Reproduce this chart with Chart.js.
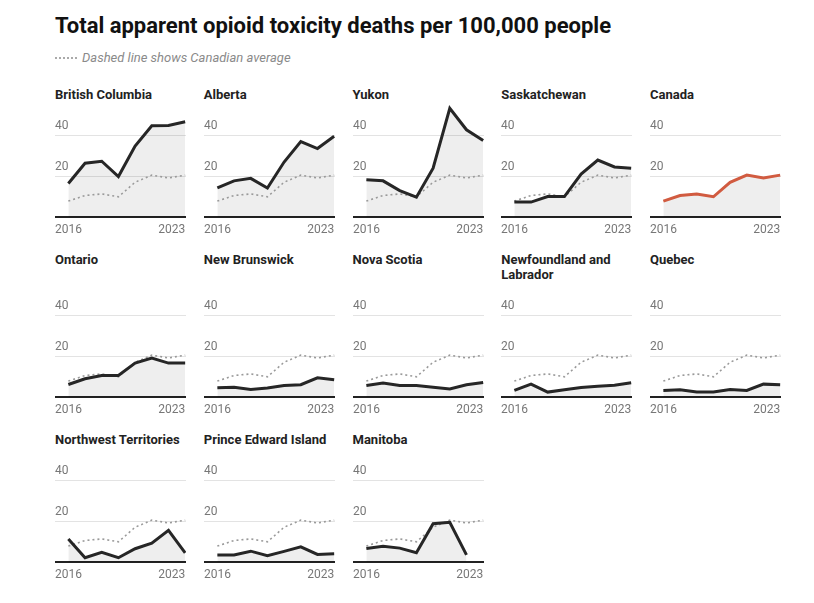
<!DOCTYPE html>
<html>
<head>
<meta charset="utf-8">
<script src="https://cdn.jsdelivr.net/npm/chart.js@4"></script>
<style>
  body { margin: 0; background: #fff; font-family: Roboto, sans-serif; }
  #wrap { position: absolute; left: 55px; top: 13px; width: 726px; }
  h1 { margin: 0; font-size: 22px; line-height: 26px; font-weight: 700; color: #111; }
  .sub { margin-top: 11px; font-size: 13px; line-height: 16px; font-style: italic; color: #8a8a8a; }
  .sub .dots { display: inline-block; width: 22px; border-top: 2px dotted #aaa; vertical-align: middle; margin-right: 5px; position: relative; top: -1px; }
  #grid { margin-top: 20.5px; display: grid; grid-template-columns: repeat(5, 131px); column-gap: 17.75px; row-gap: 9px; }
  .panel { display: flex; flex-direction: column; }
  .panel h3 { margin: 0; font-size: 13px; line-height: 15px; font-weight: 700; color: #222; }
  .panel canvas { margin-top: auto; display: block; }
</style>
</head>
<body>
<div id="wrap">
  <h1>Total apparent opioid toxicity deaths per 100,000 people</h1>
  <div class="sub"><span class="dots"></span>Dashed line shows Canadian average</div>
  <div id="grid"></div>
</div>
<script>
// years and tick labels
var years = [2016, 2017, 2018, 2019, 2020, 2021, 2022, 2023];
var xTickLabels = ['2016', '2023'];
var yTicks = [0, 20, 40];

// values, deaths per 100,000
var canada = [7.8, 10.5, 11.3, 9.9, 17.0, 20.5, 19.1, 20.5];
var britishColumbia = [16.4, 26.3, 27.3, 19.8, 34.7, 44.7, 44.8, 46.6];
var alberta = [14.2, 17.7, 18.9, 14.2, 26.9, 36.9, 33.5, 39.5];
var yukon = [18.2, 17.7, 12.9, 9.7, 23.9, 53.2, 42.7, 37.4];
var saskatchewan = [7.3, 7.3, 10.0, 10.0, 21.0, 27.9, 24.5, 23.9];
var ontario = [6.1, 8.9, 10.5, 10.5, 16.6, 19.0, 16.6, 16.6];
var newBrunswick = [4.5, 4.8, 3.7, 4.4, 5.6, 6.0, 9.4, 8.4];
var novaScotia = [5.6, 6.8, 5.6, 5.6, 4.8, 3.9, 6.0, 7.1];
var newfoundland = [3.2, 6.3, 2.4, 3.5, 4.7, 5.3, 5.8, 7.0];
var quebec = [3.2, 3.5, 2.4, 2.4, 3.7, 3.2, 6.3, 6.0];
var northwestTerritories = [11.3, 2.1, 4.7, 2.1, 6.5, 9.2, 15.5, 4.5];
var princeEdwardIsland = [3.4, 3.4, 5.3, 3.1, 5.2, 7.4, 3.7, 4.0];
var manitoba = [6.6, 7.7, 6.8, 4.5, 18.7, 19.4, 3.5, null];

var panels = [
    ['British Columbia', britishColumbia],
    ['Alberta', alberta],
    ['Yukon', yukon],
    ['Saskatchewan', saskatchewan],
    ['Canada', canada],
    ['Ontario', ontario],
    ['New Brunswick', newBrunswick],
    ['Nova Scotia', novaScotia],
    ['Newfoundland and Labrador', newfoundland],
    ['Quebec', quebec],
    ['Northwest Territories', northwestTerritories],
    ['Prince Edward Island', princeEdwardIsland],
    ['Manitoba', manitoba]
];

var xMin = 2015.2, xMax = 2023.05;

function pts(vals) {
    return years.map(function (yr, i) { return {x: yr, y: vals[i]}; });
}

var grid = document.getElementById('grid');

panels.forEach(function (p) {
    var name = p[0], vals = p[1];
    var isCanada = name === 'Canada';

    var div = document.createElement('div');
    div.className = 'panel';
    var h = document.createElement('h3');
    h.textContent = name;
    var canvas = document.createElement('canvas');
    canvas.width = 131;
    canvas.height = 141;
    div.appendChild(h);
    div.appendChild(canvas);
    grid.appendChild(div);

    var datasets = [{
        data: pts(vals),
        borderColor: isCanada ? '#d15b40' : '#262626',
        borderWidth: 3,
        backgroundColor: 'rgba(0,0,0,0.065)',
        fill: 'origin',
        pointRadius: 0,
        tension: 0,
        clip: false,
        order: 0
    }];
    if (!isCanada) {
        datasets.push({
            data: pts(canada),
            borderColor: '#9a9a9a',
            borderWidth: 1.6,
            borderDash: [2, 3],
            fill: false,
            pointRadius: 0,
            tension: 0,
            order: 1
        });
    }

    new Chart(canvas.getContext('2d'), {
        type: 'line',
        data: {datasets: datasets},
        options: {
            responsive: false,
            animation: false,
            events: [],
            layout: {padding: 0},
            plugins: {
                legend: {display: false},
                tooltip: {enabled: false},
                filler: {drawTime: 'beforeDatasetsDraw'}
            },
            scales: {
                x: {
                    type: 'linear',
                    min: xMin,
                    max: xMax,
                    afterBuildTicks: function (scale) {
                        scale.ticks = [{value: xMin}, {value: 2023}];
                    },
                    grid: {display: false, drawTicks: false},
                    border: {display: true, color: '#222', width: 2},
                    ticks: {
                        align: 'inner',
                        padding: 0,
                        maxRotation: 0,
                        autoSkip: false,
                        color: '#777',
                        font: {family: 'Roboto', size: 12, lineHeight: 26 / 12},
                        callback: function (v) { return v < 2016 ? xTickLabels[0] : xTickLabels[1]; }
                    }
                },
                y: {
                    min: 0,
                    max: 56,
                    afterBuildTicks: function (scale) {
                        scale.ticks = yTicks.map(function (v) { return {value: v}; });
                    },
                    grid: {
                        drawTicks: false,
                        color: function (ctx) { return ctx.tick && ctx.tick.value === 0 ? 'rgba(0,0,0,0)' : '#e3e3e3'; },
                        lineWidth: 1
                    },
                    border: {display: false},
                    ticks: {
                        mirror: true,
                        padding: 0,
                        autoSkip: false,
                        labelOffset: -9,
                        color: '#777',
                        font: {family: 'Roboto', size: 12, lineHeight: 0.1},
                        callback: function (v) { return v === 0 ? '' : String(v); }
                    }
                }
            }
        }
    });
});
</script>
</body>
</html>
